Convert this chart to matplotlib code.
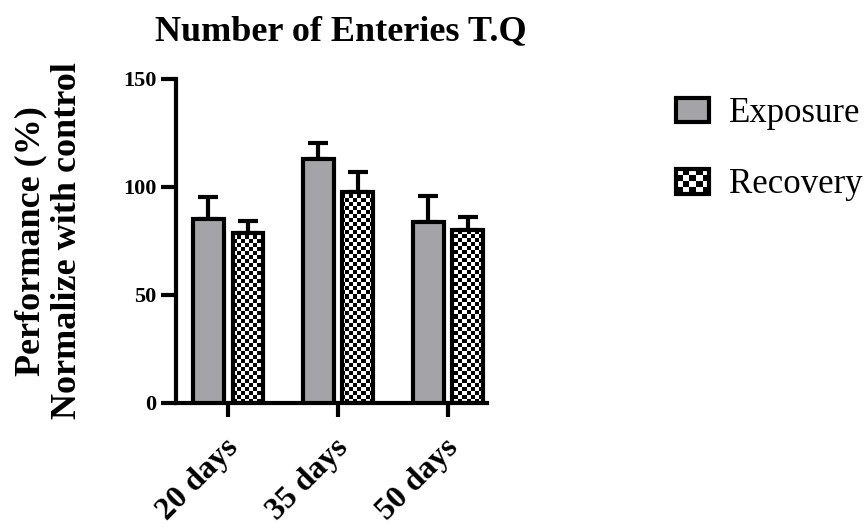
import numpy as np
import matplotlib
matplotlib.use('Agg')
import matplotlib.pyplot as plt
import matplotlib.transforms as mtransforms
from matplotlib.patches import Rectangle
from matplotlib.legend_handler import HandlerBase

plt.rcParams['font.family'] = ['Liberation Serif', 'DejaVu Serif']

groups = ['20 days', '35 days', '50 days']
exposure = [85.2, 113.0, 83.8]
exposure_err = [10.2, 7.4, 12.0]
recovery = [78.7, 97.7, 80.1]
recovery_err = [5.6, 9.3, 6.0]
series = ['Exposure', 'Recovery']
yticks = [0, 50, 100, 150]

LW = 3.0
GRAY = '#a4a4a8'
CELL = 4  # checker cell size in pixels


def checker(n_rows, n_cols):
    r, c = np.indices((n_rows, n_cols))
    return ((r + c) % 2).astype(float)


fig = plt.figure(figsize=(8.66, 5.27), dpi=100)
ax = fig.add_axes([176 / 866, 1 - 403 / 527, (487 - 176) / 866, (403 - 79) / 527])

x = np.arange(len(groups))
w = 0.28
off = 0.18
xlim = (-0.475, 2.355)
ylim = (0, 150)

ax.bar(x - off, exposure, width=w, color=GRAY, edgecolor='black', linewidth=LW, zorder=3)
rbars = ax.bar(x + off, recovery, width=w, facecolor='none', edgecolor='black',
               linewidth=LW, zorder=3)

ax.errorbar(x - off, exposure, yerr=[np.zeros(3), exposure_err], fmt='none',
            ecolor='black', elinewidth=LW, capsize=7, capthick=LW, zorder=1)
ax.errorbar(x + off, recovery, yerr=[np.zeros(3), recovery_err], fmt='none',
            ecolor='black', elinewidth=LW, capsize=7, capthick=LW, zorder=1)

# checkerboard fill for the recovery bars, clipped to each bar outline
ax_w = 487 - 176
ax_h = 403 - 79
board = checker(ax_h // CELL, ax_w // CELL)
for bar in rbars:
    im = ax.imshow(board, cmap='gray', vmin=0, vmax=1, interpolation='nearest',
                   extent=[xlim[0], xlim[1], ylim[0], ylim[1]], aspect='auto', zorder=2)
    im.set_clip_path(bar)

ax.set_xlim(*xlim)
ax.set_ylim(*ylim)

ax.spines['top'].set_visible(False)
ax.spines['right'].set_visible(False)
ax.spines['left'].set_linewidth(LW)
ax.spines['bottom'].set_linewidth(LW)

ax.set_yticks(yticks)
ax.set_yticklabels([str(t) for t in yticks], fontsize=16, fontweight='bold')
ax.set_xticks(x)
ax.set_xticklabels(groups, fontsize=23, fontweight='bold', rotation=45,
                   ha='right', rotation_mode='anchor')
ax.tick_params(axis='y', length=11, width=LW, pad=3)
ax.tick_params(axis='x', length=10, width=LW, pad=12)

# nudge the slanted labels a little to the left
shift = mtransforms.ScaledTranslation(-4 / 100, 0, fig.dpi_scale_trans)
for lab in ax.get_xticklabels():
    lab.set_transform(lab.get_transform() + shift)

ax.set_title('Number of Enteries T.Q', fontsize=26, fontweight='bold', pad=28, x=0.53)
ax.set_ylabel('Performance (%)\nNormalize with control', fontsize=26,
              fontweight='bold', labelpad=28, linespacing=1.15)


class CheckerHandler(HandlerBase):
    def create_artists(self, legend, orig_handle, xdescent, ydescent,
                       width, height, fontsize, trans):
        arts = []
        nx, ny = 5, 4
        cw, ch = width / nx, height / ny
        for i in range(nx):
            for j in range(ny):
                if (i + j) % 2 == 0:
                    arts.append(Rectangle((-xdescent + i * cw, -ydescent + j * ch), cw, ch,
                                          facecolor='black', edgecolor='none', transform=trans))
        arts.append(Rectangle((-xdescent, -ydescent), width, height, facecolor='none',
                              edgecolor='black', linewidth=LW, transform=trans))
        return arts


h_exp = Rectangle((0, 0), 1, 1, facecolor=GRAY, edgecolor='black', linewidth=LW)
h_rec = Rectangle((0, 0), 1, 1)
fig.legend([h_exp, h_rec], series, handler_map={h_rec: CheckerHandler()},
           loc='upper left', bbox_to_anchor=(645 / 866, 1 - 66 / 527),
           frameon=False, fontsize=25, handlelength=0.95, handleheight=0.72,
           labelspacing=1.1, handletextpad=0.58)

fig.savefig('out.png', dpi=100)
